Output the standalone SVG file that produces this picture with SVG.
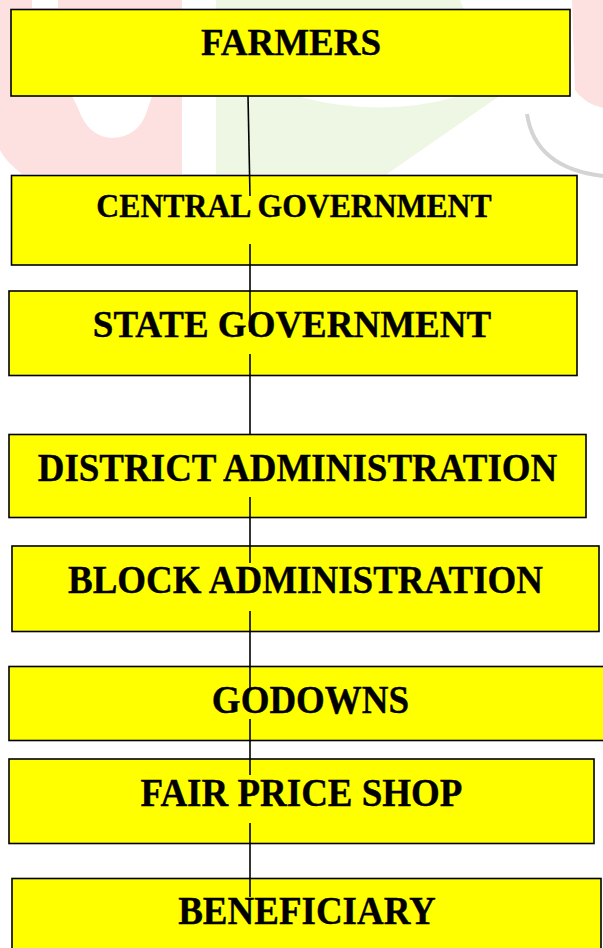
<svg xmlns="http://www.w3.org/2000/svg" width="603" height="948" viewBox="0 0 603 948">
<style>
.box{fill:#ffff00;stroke:#000;stroke-width:1.6}
.lbl{font-family:"Liberation Serif","Times New Roman",serif;font-weight:bold;font-size:37px;fill:#000;stroke:#000;stroke-width:0.35;text-anchor:middle}
.con{stroke:#000;stroke-width:1.6;fill:none}
</style>
<rect x="0" y="0" width="603" height="948" fill="#fff"/>
<g id="watermark">
<path d="M0 0 H32 V8 H58 V0 H182 V174 H22 Q6 162 0 150 Z" fill="#fde1e1"/>
<path d="M72 96 L78 108 Q88 137 112 138 Q140 137 148 108 L152 96 Z" fill="#fff"/>
<path d="M216 0 H460 L498 97 L387 174 H216 Z" fill="#edf7e3"/>
<path d="M300 97 Q380 118 456 97 Z" fill="#fff"/>
<path d="M572 0 H603 V108 Q585 104 575 90 Z" fill="#fde1e1"/>
<path d="M527 114 Q535 168 603 176" fill="none" stroke="#d4d4d4" stroke-width="4"/>
</g>
<g id="farmers">
<rect class="box" x="11" y="9.5" width="559" height="86.5"/>
<text class="lbl" transform="translate(291 55) scale(1 1.04)">FARMERS</text>
</g>
<g id="central-government">
<rect class="box" x="11.5" y="175.5" width="565.5" height="89.5"/>
<text class="lbl" transform="translate(294 217) scale(1 1.04)" style="font-size:31.7px">CENTRAL GOVERNMENT</text>
</g>
<g id="state-government">
<rect class="box" x="9" y="291" width="568" height="84.5"/>
<text class="lbl" transform="translate(292 337) scale(1 1.04)">STATE GOVERNMENT</text>
</g>
<g id="district-administration">
<rect class="box" x="9" y="434.5" width="577" height="83"/>
<text class="lbl" transform="translate(297.5 481) scale(1 1.06)">DISTRICT ADMINISTRATION</text>
</g>
<g id="block-administration">
<rect class="box" x="12" y="546" width="587" height="85.5"/>
<text class="lbl" transform="translate(305.5 593) scale(1 1.06)">BLOCK ADMINISTRATION</text>
</g>
<g id="godowns">
<rect class="box" x="9" y="666.5" width="603" height="74"/>
<text class="lbl" transform="translate(310.5 713) scale(1 1.06)">GODOWNS</text>
</g>
<g id="fair-price-shop">
<rect class="box" x="9" y="759" width="585" height="84.5"/>
<text class="lbl" transform="translate(301.5 806) scale(1 1.06)">FAIR PRICE SHOP</text>
</g>
<g id="beneficiary">
<rect class="box" x="12" y="878.5" width="589" height="80"/>
<text class="lbl" transform="translate(307 924) scale(1 1.06)">BENEFICIARY</text>
</g>
<g id="connectors">
<line class="con" x1="248" y1="96" x2="250" y2="196"/>
<line class="con" x1="250" y1="244" x2="250" y2="332"/>
<line class="con" x1="250" y1="354" x2="250" y2="434"/>
<line class="con" x1="250" y1="497" x2="250" y2="563"/>
<line class="con" x1="250" y1="611" x2="250" y2="688"/>
<line class="con" x1="250" y1="719" x2="250" y2="775"/>
<line class="con" x1="250" y1="823" x2="250" y2="897"/>
</g>
</svg>
